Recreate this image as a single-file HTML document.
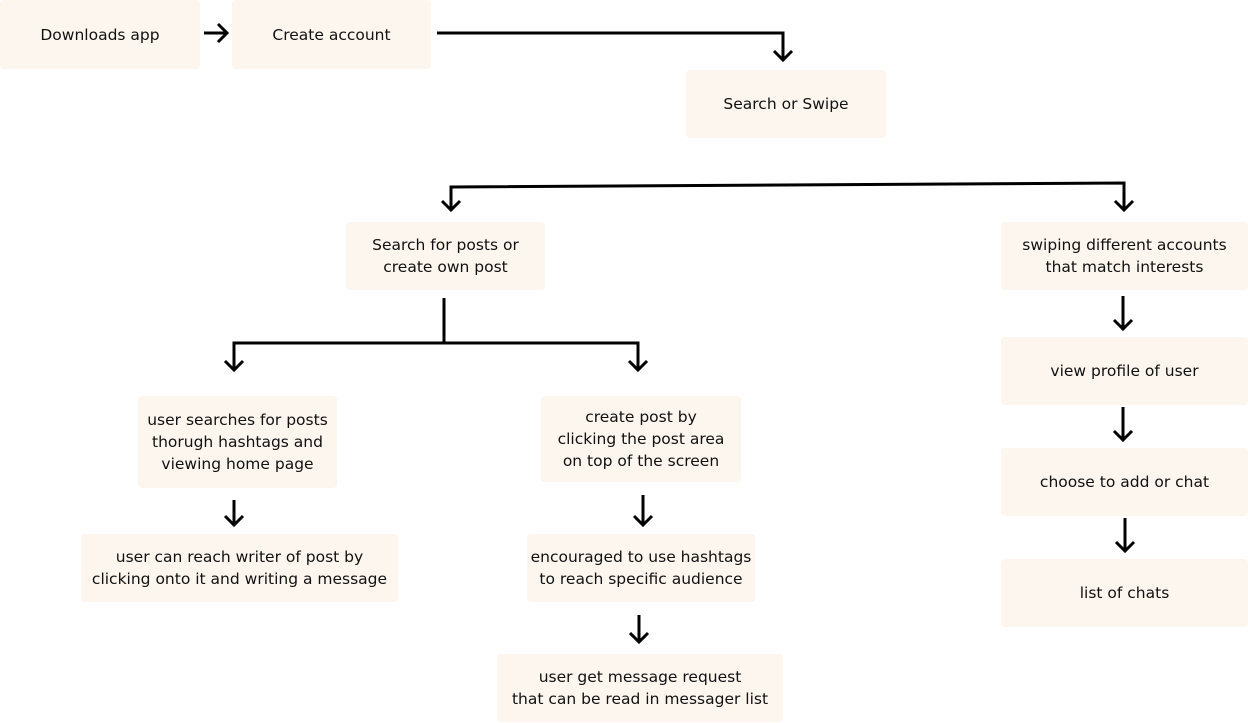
<!DOCTYPE html>
<html><head><style>
body{margin:0;width:1248px;height:723px;background:#fff;position:relative;overflow:hidden;font-family:"DejaVu Sans","Liberation Sans",sans-serif;}
.b{position:absolute;background:#fdf6ef;border-radius:4px;display:flex;align-items:center;justify-content:center;text-align:center;font-size:15.5px;line-height:22px;color:#111;}
svg{position:absolute;left:0;top:0}
</style></head><body>
<div class="b" style="left:0;top:0;width:200px;height:69px">Downloads app</div>
<div class="b" style="left:232px;top:0;width:199px;height:69px">Create account</div>
<div class="b" style="left:686px;top:70px;width:200px;height:68px">Search or Swipe</div>
<div class="b" style="left:346px;top:222px;width:199px;height:68px">Search for posts or<br>create own post</div>
<div class="b" style="left:1001px;top:222px;width:247px;height:68px">swiping different accounts<br>that match interests</div>
<div class="b" style="left:138px;top:396px;width:199px;height:92px">user searches for posts<br>thorugh hashtags and<br>viewing home page</div>
<div class="b" style="left:541px;top:396px;width:200px;height:86px">create post by<br>clicking the post area<br>on top of the screen</div>
<div class="b" style="left:81px;top:534px;width:317px;height:68px">user can reach writer of post by<br>clicking onto it and writing a message</div>
<div class="b" style="left:527px;top:534px;width:228px;height:68px">encouraged to use hashtags<br>to reach specific audience</div>
<div class="b" style="left:497px;top:654px;width:286px;height:68px">user get message request<br>that can be read in messager list</div>
<div class="b" style="left:1001px;top:337px;width:247px;height:68px">view profile of user</div>
<div class="b" style="left:1001px;top:448px;width:247px;height:68px">choose to add or chat</div>
<div class="b" style="left:1001px;top:559px;width:247px;height:68px">list of chats</div>
<svg width="1248" height="723" fill="none" stroke="#000" stroke-width="3">
<path d="M204 33H227M218 24L227 33L218 42"/>
<path d="M437 33H783V60M774 51L783 60L792 51"/>
<path d="M451 210V187L1124 183V210M442 201L451 210L460 201M1115 201L1124 210L1133 201"/>
<path d="M444 298V343M234 370V343H638V370M225 361L234 370L243 361M629 361L638 370L647 361"/>
<path d="M234 500V525M225 516L234 525L243 516"/>
<path d="M643 495V525M634 516L643 525L652 516"/>
<path d="M639 615V642M630 633L639 642L648 633"/>
<path d="M1123 296V329M1114 320L1123 329L1132 320"/>
<path d="M1123 407V440M1114 431L1123 440L1132 431"/>
<path d="M1125 518V551M1116 542L1125 551L1134 542"/>
</svg>
</body></html>
